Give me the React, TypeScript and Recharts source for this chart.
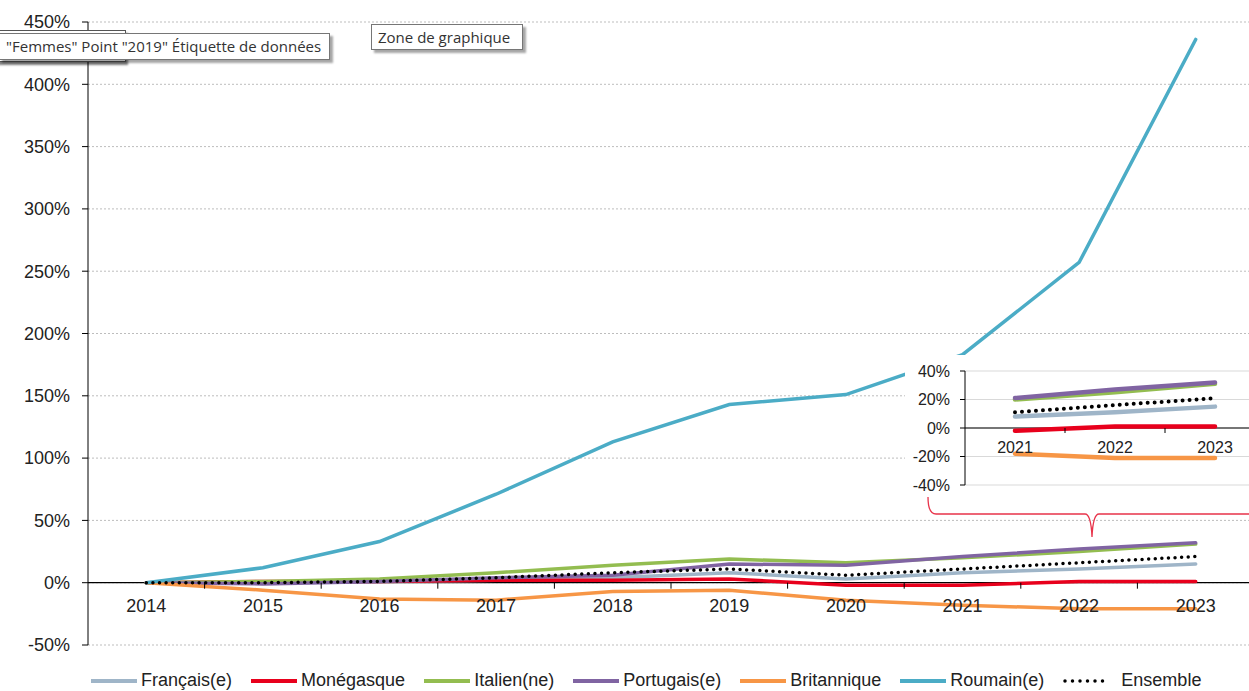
import React from "react"
import { LineChart, Line, XAxis, YAxis, CartesianGrid, ReferenceLine } from "recharts"

const years = ["2014", "2015", "2016", "2017", "2018", "2019", "2020", "2021", "2022", "2023"]
const francais = [0, 0, 1, 2, 4, 8, 3, 8, 11, 15]
const monegasque = [0, 1, 1, 2, 2, 3, -2, -2, 1, 1]
const italien = [0, 1, 3, 8, 14, 19, 16, 20, 25, 31]
const portugais = [0, -1, 1, 4, 6, 15, 14, 21, 27, 32]
const britannique = [0, -6, -13, -14, -7, -6, -14, -18, -21, -21]
const roumain = [0, 12, 33, 71, 113, 143, 151, 183, 257, 436]
const ensemble = [0, 0, 1, 4, 8, 11, 6, 11, 16, 21]

const mainTicks = [-50, 0, 50, 100, 150, 200, 250, 300, 350, 400, 450]
const insetTicks = [-40, -20, 0, 20, 40]
const insetFrom = 7 // zoom on 2021-2023

const series = [
  { key: "francais", name: "Français(e)", color: "#9fb5c8", values: francais },
  { key: "monegasque", name: "Monégasque", color: "#e8001c", values: monegasque },
  { key: "italien", name: "Italien(ne)", color: "#93bd50", values: italien },
  { key: "portugais", name: "Portugais(e)", color: "#8064a2", values: portugais },
  { key: "britannique", name: "Britannique", color: "#f79646", values: britannique },
  { key: "roumain", name: "Roumain(e)", color: "#4bacc6", values: roumain },
  { key: "ensemble", name: "Ensemble", color: "#000000", values: ensemble, dotted: true },
]

const data = years.map((year, i) => {
  const row: Record<string, string | number> = { year }
  series.forEach((s) => (row[s.key] = s.values[i]))
  return row
})
const insetData = data.slice(insetFrom)
const insetSeries = series.filter((s) => s.key !== "roumain")

const FONT = "'Liberation Sans', Arial, sans-serif"

// main chart layout
const MAIN_W = 1262
const MAIN_H = 660
const MAIN_TOP = 22
const MAIN_PLOT_H = 623
const MAIN_PLOT_W = 1166
const mainStep = MAIN_PLOT_W / years.length
const mainZero = MAIN_TOP + (MAIN_PLOT_H * 450) / 500

// inset layout
const IN_W = 360
const IN_H = 142
const IN_TOP = 16
const IN_PLOT_H = 114
const IN_PLOT_W = 300
const inStep = IN_PLOT_W / insetData.length
const inZero = IN_TOP + IN_PLOT_H / 2

function MainTick(props: any) {
  const { x, payload } = props
  return (
    <g>
      <text x={x} y={mainZero + 29} textAnchor="middle" fontSize={18} fill="#222" fontFamily={FONT}>
        {payload.value}
      </text>
      <line x1={x + mainStep / 2} x2={x + mainStep / 2} y1={mainZero} y2={mainZero + 6} stroke="#000" />
    </g>
  )
}

function InsetTick(props: any) {
  const { x, payload } = props
  return (
    <g>
      <text x={x} y={inZero + 25} textAnchor="middle" fontSize={16} fill="#222" fontFamily={FONT}>
        {payload.value}
      </text>
      <line x1={x + inStep / 2} x2={x + inStep / 2} y1={inZero} y2={inZero + 5} stroke="#000" />
    </g>
  )
}

const tipStyle: React.CSSProperties = {
  position: "absolute",
  background: "#fff",
  border: "1px solid #767676",
  boxShadow: "3px 3px 2px rgba(0,0,0,0.35)",
  fontFamily: "'Open Sans', 'Noto Sans', sans-serif",
  fontSize: 15,
  color: "#333",
  whiteSpace: "nowrap",
  lineHeight: "24px",
  paddingLeft: 6,
  boxSizing: "border-box",
}

export default function App() {
  return (
    <div style={{ position: "absolute", left: 0, top: 0, width: 1249, height: 691, overflow: "hidden", background: "#fff" }}>
      <LineChart width={MAIN_W} height={MAIN_H} data={data} margin={{ top: MAIN_TOP, right: 8, left: 0, bottom: 0 }}>
        <CartesianGrid vertical={false} stroke="#bdbdbd" strokeDasharray="2 2" />
        <XAxis
          dataKey="year"
          height={15}
          axisLine={false}
          tickLine={false}
          interval={0}
          padding={{ left: mainStep / 2, right: mainStep / 2 }}
          tick={MainTick}
        />
        <YAxis
          width={88}
          domain={[-50, 450]}
          ticks={mainTicks}
          interval={0}
          tickFormatter={(v) => `${v}%`}
          tick={{ fill: "#222", fontSize: 18, fontFamily: FONT }}
          tickSize={6}
          tickMargin={12}
          axisLine={{ stroke: "#000" }}
          tickLine={{ stroke: "#000" }}
        />
        <ReferenceLine y={0} stroke="#000" strokeWidth={1.3} />
        {series.map((s) => (
          <Line
            key={s.key}
            type="linear"
            dataKey={s.key}
            name={s.name}
            stroke={s.color}
            strokeWidth={3.5}
            strokeDasharray={s.dotted ? "0 6.6" : undefined}
            strokeLinecap="round"
            dot={false}
            isAnimationActive={false}
          />
        ))}
      </LineChart>

      {/* zoom on the last three years */}
      <div style={{ position: "absolute", left: 905, top: 355, width: IN_W, height: IN_H, background: "#fff" }}>
        <LineChart width={IN_W} height={IN_H} data={insetData} margin={{ top: IN_TOP, right: 0, left: 0, bottom: 0 }}>
          <CartesianGrid vertical={false} stroke="#d9d9d9" />
          <XAxis
            dataKey="year"
            height={IN_H - IN_TOP - IN_PLOT_H}
            axisLine={false}
            tickLine={false}
            interval={0}
            padding={{ left: inStep / 2, right: inStep / 2 }}
            tick={InsetTick}
          />
          <YAxis
            width={60}
            domain={[-40, 40]}
            ticks={insetTicks}
            interval={0}
            tickFormatter={(v) => `${v}%`}
            tick={{ fill: "#222", fontSize: 16, fontFamily: FONT }}
            tickSize={5}
            tickMargin={10}
            axisLine={{ stroke: "#000" }}
            tickLine={{ stroke: "#000" }}
          />
          <ReferenceLine y={0} stroke="#000" strokeWidth={1.2} />
          {insetSeries.map((s) => (
            <Line
              key={s.key}
              type="linear"
              dataKey={s.key}
              stroke={s.color}
              strokeWidth={s.dotted ? 4 : 4.5}
              strokeDasharray={s.dotted ? "0 7" : undefined}
              strokeLinecap="round"
              dot={false}
              isAnimationActive={false}
            />
          ))}
        </LineChart>
      </div>

      <svg width={1249} height={691} style={{ position: "absolute", left: 0, top: 0, pointerEvents: "none" }}>
        <path
          d="M928,497 Q928,514 936,514 L1085,514 Q1091,514 1092,537 Q1093,514 1099,514 L1249,514"
          stroke="#e8334a"
          strokeWidth={1.3}
          fill="none"
        />
      </svg>

      {/* legend */}
      <div
        style={{
          position: "absolute",
          left: 91,
          top: 670,
          display: "flex",
          alignItems: "center",
          fontFamily: FONT,
          fontSize: 18,
          color: "#222",
          whiteSpace: "nowrap",
        }}
      >
        {series.map((s) => (
          <div key={s.key} style={{ display: "flex", alignItems: "center", marginRight: 19 }}>
            <svg width={s.dotted ? 50 : 46} height={10} style={{ marginRight: s.dotted ? 8 : 4 }}>
              <line
                x1={s.dotted ? 2 : 0}
                x2={s.dotted ? 42 : 46}
                y1={5}
                y2={5}
                stroke={s.color}
                strokeWidth={s.dotted ? 3.5 : 4}
                strokeDasharray={s.dotted ? "0 7.5" : undefined}
                strokeLinecap={s.dotted ? "round" : "butt"}
              />
            </svg>
            <span>{s.name}</span>
          </div>
        ))}
      </div>

      {/* Excel hover tips */}
      <div style={{ ...tipStyle, left: -6, top: 30, width: 132, height: 32, border: "1px solid #555", boxShadow: "2px 3px 2px rgba(0,0,0,0.5)" }} />
      <div style={{ ...tipStyle, left: -1, top: 33, width: 331, height: 27 }}>"Femmes" Point "2019" Étiquette de données</div>
      <div style={{ ...tipStyle, left: 371, top: 24, width: 152, height: 26 }}>Zone de graphique</div>
    </div>
  )
}
